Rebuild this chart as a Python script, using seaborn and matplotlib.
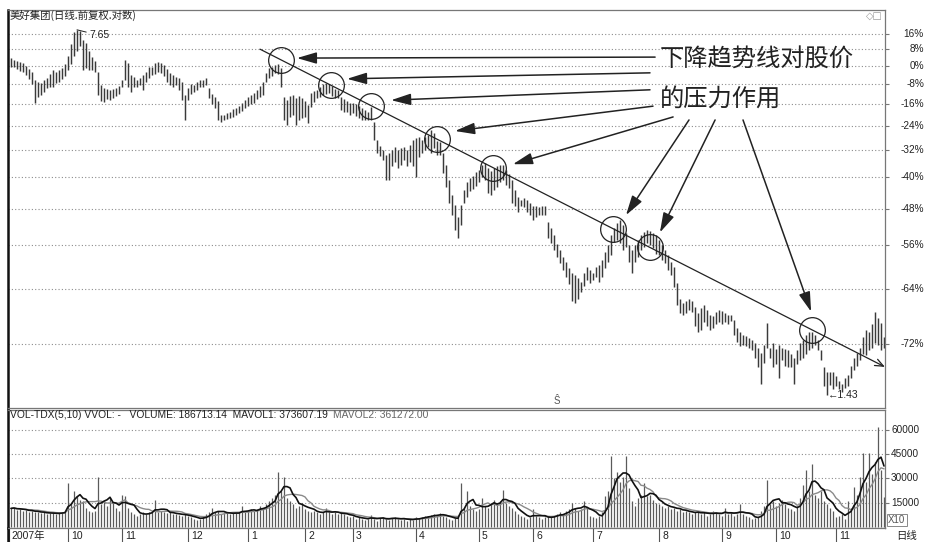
import numpy as np
import pandas as pd
import matplotlib
matplotlib.use("Agg")
import matplotlib.pyplot as plt
import matplotlib.transforms as mtransforms
from matplotlib.ticker import NullLocator
import seaborn as sns

# daily high / low (yuan, forward adjusted), Sep 2007 - Nov 2008
high = [6.72, 6.66, 6.63, 6.60, 6.57, 6.48, 6.39, 6.30, 6.08, 6.02,
        6.00, 6.08, 6.14, 6.25, 6.36, 6.30, 6.36, 6.42, 6.54, 6.78,
        7.17, 7.58, 7.65, 7.62, 7.30, 7.20, 6.93, 6.75, 6.63, 6.30,
        5.94, 5.86, 5.83, 5.81, 5.83, 5.86, 5.91, 6.08, 6.66, 6.57,
        6.22, 6.16, 6.08, 6.14, 6.22, 6.30, 6.45, 6.45, 6.57, 6.60,
        6.57, 6.51, 6.39, 6.28, 6.22, 6.16, 6.14, 6.02, 5.67, 5.86,
        5.97, 5.94, 6.02, 6.08, 6.08, 6.14, 5.86, 5.70, 5.62, 5.52,
        5.18, 5.18, 5.22, 5.24, 5.32, 5.34, 5.39, 5.47, 5.54, 5.62,
        5.67, 5.72, 5.81, 5.91, 6.02, 6.28, 6.42, 6.45, 6.51, 6.54,
        6.42, 5.62, 5.54, 5.64, 5.67, 5.59, 5.64, 5.59, 5.52, 5.42,
        5.72, 5.78, 5.81, 5.89, 5.97, 6.00, 5.97, 5.91, 5.83, 5.81,
        5.62, 5.57, 5.52, 5.47, 5.47, 5.44, 5.39, 5.34, 5.29, 5.25,
        5.37, 5.01, 4.62, 4.49, 4.41, 4.31, 4.35, 4.41, 4.47, 4.41,
        4.45, 4.47, 4.41, 4.51, 4.62, 4.66, 4.68, 4.62, 4.68, 4.72,
        4.83, 4.77, 4.60, 4.58, 4.35, 4.11, 3.84, 3.59, 3.43, 3.24,
        3.43, 3.67, 3.80, 3.88, 3.91, 3.98, 4.02, 4.11, 4.15, 4.06,
        4.00, 4.06, 4.09, 4.11, 4.11, 4.02, 3.95, 3.84, 3.67, 3.56,
        3.50, 3.53, 3.50, 3.46, 3.41, 3.41, 3.40, 3.41, 3.41, 3.17,
        3.08, 2.98, 2.87, 2.79, 2.70, 2.64, 2.56, 2.51, 2.48, 2.45,
        2.41, 2.51, 2.58, 2.54, 2.51, 2.58, 2.60, 2.66, 2.76, 2.85,
        2.98, 3.08, 3.15, 3.20, 3.12, 3.01, 2.85, 2.79, 2.85, 2.92,
        2.98, 3.03, 3.05, 3.04, 3.01, 2.98, 2.92, 2.85, 2.79, 2.72,
        2.64, 2.58, 2.40, 2.23, 2.19, 2.21, 2.23, 2.21, 2.15, 2.09,
        2.14, 2.17, 2.12, 2.07, 2.06, 2.10, 2.12, 2.11, 2.09, 2.07,
        2.07, 2.02, 1.95, 1.91, 1.89, 1.88, 1.86, 1.84, 1.82, 1.78,
        1.74, 1.80, 1.99, 1.78, 1.82, 1.77, 1.80, 1.78, 1.77, 1.76,
        1.73, 1.70, 1.76, 1.82, 1.84, 1.89, 1.91, 1.91, 1.89, 1.84,
        1.76, 1.63, 1.59, 1.59, 1.59, 1.56, 1.53, 1.51, 1.55, 1.57,
        1.64, 1.70, 1.74, 1.78, 1.87, 1.93, 1.91, 1.98, 2.10, 2.04,
        1.99, 1.87]

low = [6.45, 6.45, 6.39, 6.33, 6.30, 6.22, 6.11, 5.97, 5.46, 5.62,
       5.67, 5.75, 5.86, 5.89, 5.89, 6.00, 6.02, 6.11, 6.19, 6.36,
       6.54, 6.78, 6.93, 7.10, 6.36, 6.42, 6.36, 6.36, 6.30, 5.67,
       5.52, 5.49, 5.57, 5.54, 5.59, 5.64, 5.70, 5.89, 6.08, 5.89,
       5.75, 5.89, 5.89, 5.94, 5.81, 6.02, 6.14, 6.22, 6.25, 6.30,
       6.28, 6.19, 6.02, 5.94, 5.89, 5.94, 5.81, 5.54, 5.06, 5.54,
       5.70, 5.75, 5.81, 5.89, 5.89, 5.94, 5.59, 5.44, 5.34, 5.06,
       5.01, 5.06, 5.08, 5.11, 5.13, 5.18, 5.22, 5.27, 5.34, 5.39,
       5.44, 5.46, 5.57, 5.62, 5.67, 6.02, 6.14, 6.19, 6.28, 6.25,
       5.89, 5.06, 4.94, 5.13, 5.18, 4.94, 5.06, 5.11, 5.13, 4.99,
       5.37, 5.49, 5.59, 5.62, 5.67, 5.70, 5.72, 5.64, 5.59, 5.59,
       5.29, 5.25, 5.25, 5.18, 5.22, 5.15, 5.11, 5.06, 5.06, 5.06,
       5.06, 4.62, 4.35, 4.29, 4.21, 3.84, 3.84, 4.09, 4.17, 4.06,
       4.11, 4.21, 4.09, 4.17, 4.09, 3.89, 4.27, 4.35, 4.41, 4.47,
       4.35, 4.45, 4.31, 4.31, 3.97, 3.72, 3.46, 3.27, 3.05, 2.95,
       3.12, 3.46, 3.56, 3.65, 3.69, 3.74, 3.80, 3.89, 3.84, 3.62,
       3.59, 3.67, 3.72, 3.80, 3.84, 3.75, 3.70, 3.46, 3.41, 3.32,
       3.41, 3.40, 3.32, 3.27, 3.20, 3.24, 3.27, 3.27, 3.27, 2.95,
       2.88, 2.79, 2.70, 2.63, 2.54, 2.46, 2.38, 2.21, 2.19, 2.23,
       2.30, 2.36, 2.43, 2.40, 2.43, 2.46, 2.41, 2.46, 2.56, 2.64,
       2.72, 2.89, 2.92, 2.88, 2.79, 2.83, 2.64, 2.51, 2.64, 2.70,
       2.79, 2.83, 2.88, 2.85, 2.81, 2.74, 2.72, 2.66, 2.63, 2.54,
       2.48, 2.35, 2.17, 2.09, 2.07, 2.09, 2.12, 2.10, 1.97, 1.91,
       1.93, 2.00, 1.97, 1.93, 1.95, 1.98, 2.00, 1.98, 2.00, 1.98,
       2.01, 1.89, 1.83, 1.79, 1.80, 1.79, 1.78, 1.76, 1.70, 1.63,
       1.51, 1.66, 1.78, 1.70, 1.63, 1.65, 1.55, 1.68, 1.64, 1.63,
       1.63, 1.51, 1.65, 1.68, 1.70, 1.73, 1.76, 1.78, 1.80, 1.76,
       1.68, 1.49, 1.43, 1.50, 1.47, 1.49, 1.47, 1.45, 1.48, 1.49,
       1.55, 1.61, 1.64, 1.68, 1.73, 1.72, 1.76, 1.78, 1.82, 1.80,
       1.76, 1.78]

# daily volume in thousands (chart unit x10)
vol_k = [11.5, 12, 10.5, 11, 10, 10.5, 9.5, 10, 9, 9.5,
         8.5, 9, 8, 8.5, 9, 8, 8.5, 9, 10, 27,
         15, 22, 19, 17, 16, 12, 10, 9, 10, 31,
         14, 16, 13, 18, 15, 12, 10, 20, 19, 12,
         9, 8, 7, 8, 9, 8, 9, 10, 17, 9,
         10, 9, 8.5, 9, 8, 8, 7.5, 7, 8, 6.5,
         6, 5, 4.5, 5, 7, 8, 9, 12, 9, 10,
         8, 9, 8.5, 8, 9, 8.5, 9, 13, 9, 10,
         11, 10, 11, 13, 12, 14, 16, 18, 20, 34,
         22, 31, 18, 16, 14, 12, 13, 15, 11, 10,
         9, 10, 9, 8, 9, 12, 9, 8, 9, 8,
         9, 8, 7, 6, 6.5, 5, 6, 5, 4.5, 5,
         7.5, 5, 4, 5.5, 6, 5, 4.5, 5.5, 6, 5,
         4.5, 5, 4, 5, 4.5, 6, 5.5, 6, 7, 6.5,
         7.5, 8, 7, 8.5, 7, 6, 5, 4.5, 5.5, 6,
         27, 12, 22, 13, 11, 10, 11, 18, 13, 12,
         15, 17, 14, 16, 23, 15, 13, 12, 10, 8,
         7, 6, 5, 6, 11, 7, 6, 5, 6, 7,
         6, 7, 8, 9, 8, 10, 11, 15, 12, 10,
         11, 16, 12, 7, 6, 5.5, 7, 9, 19, 22,
         44, 30, 34, 28, 31, 44, 24, 16, 13, 18,
         20, 27, 19, 20, 17, 15, 14, 13, 12, 13,
         11, 12, 10, 11, 9, 10, 9, 8, 9, 10,
         8, 9, 7, 8, 10, 9, 8, 7, 12, 8,
         9, 7, 8, 14, 8, 7, 6, 5, 5.5, 6,
         10, 13, 29, 14, 16, 13, 15, 17, 14, 12,
         11, 10, 13, 18, 26, 35, 22, 39, 20, 18,
         22, 16, 14, 12, 10, 6, 7, 8, 5, 16,
         12, 25, 20, 31, 46, 28, 46, 33, 40, 62,
         35, 18.7]

base_price = 6.48  # 0% line of the log axis
pct_ticks = [16, 8, 0, -8, -16, -24, -32, -40, -48, -56, -64, -72]
vol_ticks = [15000, 30000, 45000, 60000]
month_labels = ["2007年", "10", "11", "12", "1", "2", "3", "4", "5", "6", "7", "8", "9", "10", "11"]
month_pos = [-0.8, 19, 37, 59, 79, 98, 114, 135, 156, 174, 194, 216, 237, 255, 275]

# downtrend line (bar index, price) and the bars where it caps the price
trend_idx = [83, 291.3]
trend_price = [7.00, 1.63]
touch_idx = [90, 106.7, 120, 142, 160.7, 200.7, 213, 267]

# callout arrows: tail near the caption, head next to a touch
arrow_tail_idx = [214.7, 213, 213, 214, 220.7, 226, 234.7, 244]
arrow_tail_price = [6.75, 6.28, 5.81, 5.39, 5.13, 5.06, 5.06, 5.06]
arrow_head_idx = [95.3, 112, 126.7, 148, 167.3, 205, 216.3, 266.7]
arrow_head_price = [6.72, 6.11, 5.54, 4.81, 4.13, 3.27, 3.02, 2.10]

sns.set_style("white")
plt.rcParams["font.family"] = ["Liberation Sans", "DejaVu Sans", "Noto Sans CJK SC"]
plt.rcParams["axes.unicode_minus"] = False

df = pd.DataFrame({"high": high, "low": low, "vol": np.array(vol_k) * 1000})
df["idx"] = np.arange(len(df))
df["ma5"] = df["vol"].rolling(5, min_periods=1).mean()
df["ma10"] = df["vol"].rolling(10, min_periods=1).mean()

W, H = 926, 542
fig = plt.figure(figsize=(W / 100, H / 100), dpi=100)


def rect(x0, y0, x1, y1):
    return [x0 / W, 1 - y1 / H, (x1 - x0) / W, (y1 - y0) / H]


ax = fig.add_axes(rect(8, 10, 885, 408))
axv = fig.add_axes(rect(8, 410, 885, 528))
axd = fig.add_axes(rect(8, 528, 885, 542))

xlim = (-1, 291.33)
ink = "#222222"
grid_kw = dict(color="#8c8c8c", lw=0.8, ls=(0, (1, 2)), zorder=0)
cjk = ["Noto Sans CJK SC"]

for a in (ax, axv, axd):
    a.set_xlim(*xlim)
    a.set_xticks([])
    for side in ("top", "right", "bottom"):
        a.spines[side].set_color("#777777")
        a.spines[side].set_linewidth(0.9)
    a.spines["left"].set_color("#111111")
    a.spines["left"].set_linewidth(1.8)

# price panel (log scale, % of base price)
ax.set_yscale("log")
ax.vlines(df["idx"], df["low"], df["high"], color="#3a3a3a", lw=1.05)
ax.set_ylim(1.35, 8.378)
ax.yaxis.set_minor_locator(NullLocator())
pct_pos = [base_price * (1 + p / 100) for p in pct_ticks]
ax.set_yticks(pct_pos)
ax.set_yticklabels([])
ax.yaxis.tick_right()
ax.tick_params(axis="y", length=3, width=0.8, color="#777777")
for y in pct_pos:
    ax.axhline(y, **grid_kw)
tr = mtransforms.blended_transform_factory(fig.transFigure, ax.transData)
for p, y in zip(pct_ticks, pct_pos):
    ax.text(924 / W, y, f"{p}%", transform=tr, ha="right", va="center", fontsize=7.2, color=ink)

# trend line, touch circles, arrows and caption
ax.annotate("", xy=(trend_idx[1], trend_price[1]), xytext=(trend_idx[0], trend_price[0]),
            arrowprops=dict(arrowstyle="->,head_length=0.6,head_width=0.25", lw=0.9, color=ink,
                            shrinkA=0, shrinkB=0))
touch_price = np.exp(np.interp(touch_idx, trend_idx, np.log(trend_price)))
ax.plot(touch_idx, touch_price, "o", ms=18.5, mfc="none", mec=ink, mew=0.9)
for tx, ty, hx, hy in zip(arrow_tail_idx, arrow_tail_price, arrow_head_idx, arrow_head_price):
    ax.annotate("", xy=(hx, hy), xytext=(tx, ty),
                arrowprops=dict(arrowstyle="-|>,head_length=1.2,head_width=0.35", lw=1.1,
                                color=ink, mutation_scale=10, shrinkA=0, shrinkB=0))
ax.text(216.3, 6.66, "下降趋势线对股价", family=cjk, fontsize=17.5, color=ink, va="center", ha="left")
ax.text(216.3, 5.59, "的压力作用", family=cjk, fontsize=17.5, color=ink, va="center", ha="left")

# extreme price labels
i_max = int(df["high"].idxmax())
i_min = int(df["low"].idxmin())
ax.annotate(f"{df['high'].max():.2f}", xy=(i_max, df["high"].max()), xytext=(9, -4),
            textcoords="offset points", fontsize=7.5, color=ink, va="center",
            arrowprops=dict(arrowstyle="-", lw=0.7, color=ink, shrinkA=0, shrinkB=0))
ax.text(i_min + 0.2, df["low"].min(), f"←{df['low'].min():.2f}", fontsize=7.5, color=ink,
        va="center", ha="left")
ax.text(182, 1.394, "Ŝ", fontsize=7, color="#555555", ha="center", va="center")

fig.text(10 / W, 1 - 15 / H, "美好集团(日线.前复权.对数)", family=cjk, fontsize=7.5, color=ink, va="center")
fig.text(866 / W, 1 - 16 / H, "◇□", family=["DejaVu Sans"], fontsize=7, color="#999999", va="center")

# volume panel
axv.vlines(df["idx"], 0, df["vol"], color="#5a5a5a", lw=0.9)
sns.lineplot(data=df, x="idx", y="ma10", ax=axv, color="#8a8a8a", lw=1.0)
sns.lineplot(data=df, x="idx", y="ma5", ax=axv, color="#111111", lw=1.2)
axv.set_xlim(*xlim)
axv.set_ylim(-619, 72371)
axv.set_xlabel("")
axv.set_ylabel("")
axv.set_yticks(vol_ticks)
axv.set_yticklabels([])
axv.yaxis.tick_right()
axv.tick_params(axis="y", length=3, width=0.8, color="#777777")
for v in vol_ticks:
    axv.axhline(v, **grid_kw)
trv = mtransforms.blended_transform_factory(fig.transFigure, axv.transData)
for v in vol_ticks:
    axv.text(891 / W, v, f"{v}", transform=trv, ha="left", va="center", fontsize=7.2, color=ink)

fig.text(10 / W, 1 - 415 / H, "VOL-TDX(5,10) VVOL: -   VOLUME: 186713.14  MAVOL1: 373607.19",
         fontsize=7.4, color=ink, va="center")
fig.text(333 / W, 1 - 415 / H, "MAVOL2: 361272.00", fontsize=7.4, color="#666666", va="center")
fig.text(888 / W, 1 - 520 / H, "X10", fontsize=7, color="#555555", va="center",
         bbox=dict(boxstyle="square,pad=0.15", fc="white", ec="#888888", lw=0.7))

# date strip
axd.set_ylim(0, 1)
axd.set_yticks([])
axd.spines["right"].set_visible(False)
axd.spines["bottom"].set_visible(False)
axd.vlines(month_pos, 0, 1, color="#555555", lw=0.8)
for pos, lab in zip(month_pos, month_labels):
    axd.text(pos + 1.0, 0.42, lab, family=["Liberation Sans", "Noto Sans CJK SC"], fontsize=7.5,
             color=ink, va="center", ha="left")
fig.text(896 / W, 1 - 536 / H, "日线", family=cjk, fontsize=7.5, color=ink, va="center")

fig.savefig("out.png", dpi=100)
